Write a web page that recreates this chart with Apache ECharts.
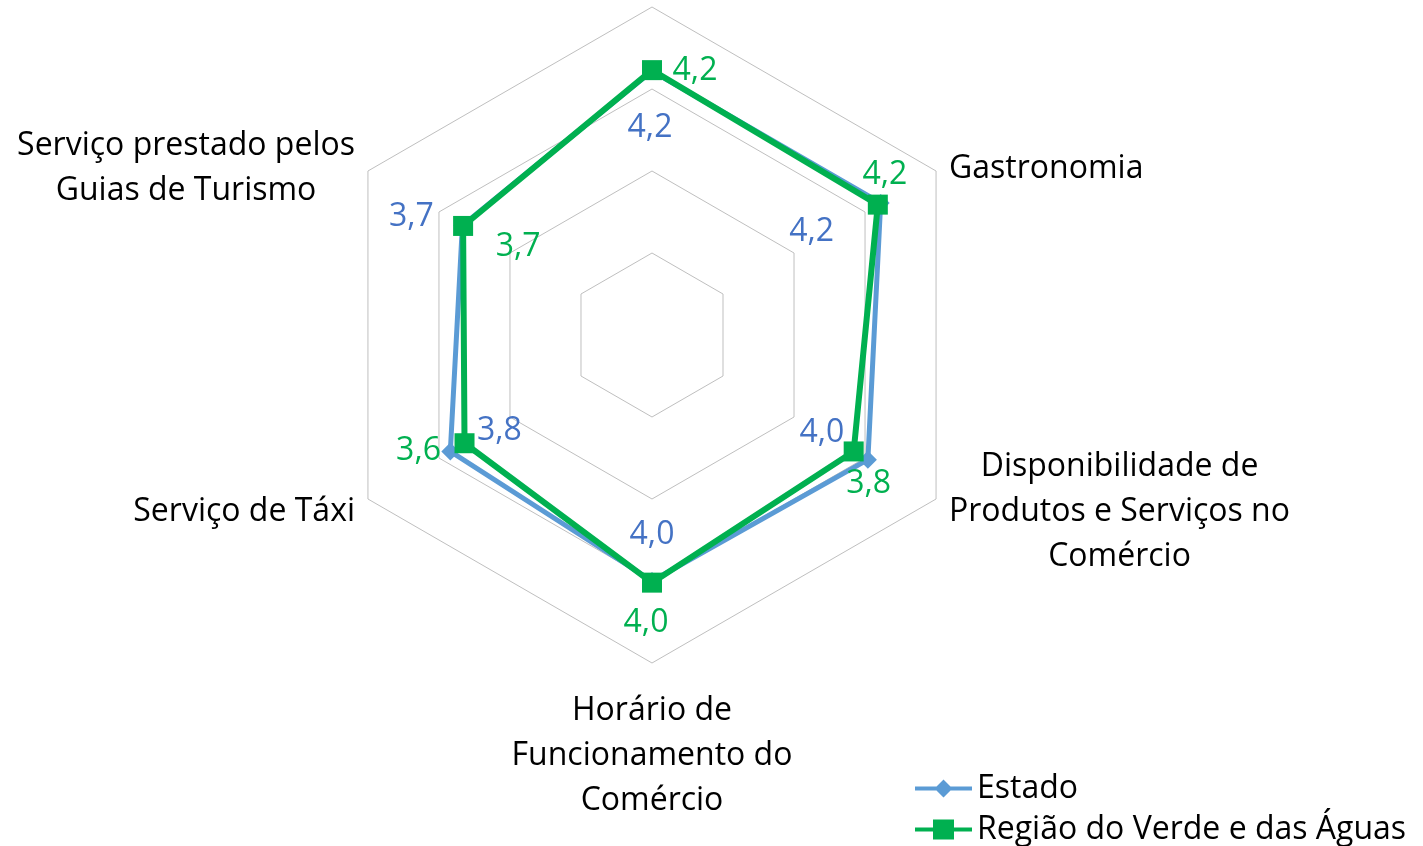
<!DOCTYPE html>
<html>
<head>
<meta charset="utf-8">
<script src="https://cdn.jsdelivr.net/npm/echarts@6/dist/echarts.min.js"></script>
<style>
  html, body { margin: 0; padding: 0; background: #fff; }
  #chart { width: 1423px; height: 846px; }
</style>
</head>
<body>
<div id="chart"></div>
<script>
// categories, clockwise from the top (as in the original chart)
const categories = [
  "",
  "Gastronomia",
  "Disponibilidade de\nProdutos e Serviços no\nComércio",
  "Horário de\nFuncionamento do\nComércio",
  "Serviço de Táxi",
  "Serviço prestado pelos\nGuias de Turismo"
];
const seriesNames = ["Estado", "Região do Verde e das Águas"];
const estado = [4.22, 4.22, 4.04, 4.0, 3.84, 3.67];
const regiao = [4.23, 4.18, 3.84, 4.02, 3.64, 3.66];
const axisMin = 1;
const axisMax = 5;

const FONT = "Open Sans";
const BLUE_LINE = "#5B9BD5";
const BLUE_TEXT = "#4472C4";
const GREEN = "#00B050";

// echarts lays indicators out counter-clockwise, so reorder
const order = [0, 5, 4, 3, 2, 1];
const pick = arr => order.map(i => arr[i]);

// label offsets from the marker (dx, dy), clockwise order
const estadoOffsets = [[-2, 57], [-69, 29], [-46, -27], [0, -46], [49, -21], [-51, -9]];
const regiaoOffsets = [[43, 1], [7, -30], [15, 32], [-6, 40], [-46, 8], [55, 21]];

function fmt(v) {
  return v.toFixed(1).replace(".", ",");
}

function labelRich(offsets, color) {
  const rich = {};
  pick(offsets).forEach(function (o, i) {
    const dx = o[0], dy = o[1];
    rich["p" + i] = {
      color: color,
      fontSize: 32,
      fontFamily: FONT,
      padding: [Math.max(dy, 0) * 2, Math.max(-dx, 0) * 2, Math.max(-dy, 0) * 2, Math.max(dx, 0) * 2]
    };
  });
  return rich;
}

function makeLabel(offsets, color) {
  return {
    show: true,
    position: "inside",
    formatter: function (p) {
      return "{p" + p.dimensionIndex + "|" + fmt(p.value) + "}";
    },
    rich: labelRich(offsets, color)
  };
}

const chart = echarts.init(document.getElementById("chart"));

const option = {
  backgroundColor: "#fff",
  animation: false,
  legend: {
    orient: "vertical",
    left: 915,
    top: 768,
    height: 90,
    padding: 0,
    itemGap: 0,
    itemWidth: 57,
    itemHeight: 20,
    itemStyle: { borderWidth: 0 },
    textStyle: { fontSize: 32, fontFamily: FONT, color: "#000", lineHeight: 41 },
    data: [
      { name: seriesNames[0], icon: "path://M0,8 L57,8 L57,12 L0,12 Z M28.5,1 L37.5,10 L28.5,19 L19.5,10 Z" },
      { name: seriesNames[1], icon: "path://M0,8 L57,8 L57,12 L0,12 Z M18,0 L39,0 L39,20 L18,20 Z" }
    ]
  },
  radar: {
    center: [652, 335],
    radius: 328,
    startAngle: 90,
    splitNumber: 4,
    shape: "polygon",
    indicator: pick(categories).map(function (name) {
      return { name: name, min: axisMin, max: axisMax };
    }),
    nameGap: 15,
    axisName: {
      color: "#000",
      fontSize: 32,
      fontFamily: FONT,
      padding: [10, 0, 0, 0],
      formatter: function (name) {
        if (!name) return "";
        return name.split("\n").map(function (l) { return "{c|" + l + "}"; }).join("\n");
      },
      rich: {
        c: { align: "center", fontSize: 32, fontFamily: FONT, color: "#000", lineHeight: 45 }
      }
    },
    axisLine: { show: false },
    axisTick: { show: false },
    axisLabel: { show: false },
    splitArea: { show: false },
    splitLine: { lineStyle: { color: "#BFBFBF", width: 1 } }
  },
  series: [
    {
      name: seriesNames[0],
      type: "radar",
      symbol: "diamond",
      symbolSize: 18,
      lineStyle: { color: BLUE_LINE, width: 5 },
      itemStyle: { color: BLUE_LINE },
      label: makeLabel(estadoOffsets, BLUE_TEXT),
      data: [{ name: seriesNames[0], value: pick(estado) }]
    },
    {
      name: seriesNames[1],
      type: "radar",
      symbol: "rect",
      symbolSize: 20,
      lineStyle: { color: GREEN, width: 6 },
      itemStyle: { color: GREEN },
      label: makeLabel(regiaoOffsets, GREEN),
      data: [{ name: seriesNames[1], value: pick(regiao) }]
    }
  ]
};

chart.setOption(option);
</script>
</body>
</html>
